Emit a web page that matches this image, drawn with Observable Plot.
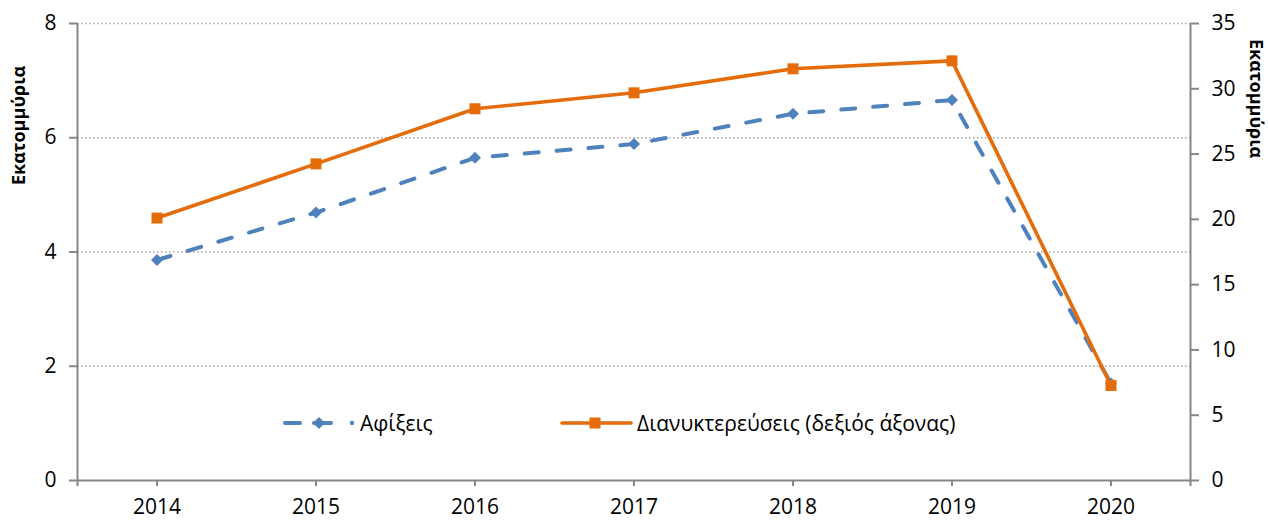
<!DOCTYPE html>
<html>
<head>
<meta charset="utf-8">
<script src="https://cdn.jsdelivr.net/npm/d3@7"></script>
<script src="https://cdn.jsdelivr.net/npm/@observablehq/plot@0.6"></script>
<style>
  html, body { margin: 0; padding: 0; background: #fff; }
  #wrap { position: relative; width: 1268px; height: 520px; font-family: "Open Sans", sans-serif; }
  .leg { position: absolute; top: 408px; height: 30px; display: flex; align-items: center; font-size: 21px; color: #000; white-space: nowrap; }
  .leg svg { display: block; }
</style>
</head>
<body>
<div id="wrap"></div>
<script>
const years = [2014, 2015, 2016, 2017, 2018, 2019, 2020];
const arrivals = [3.86, 4.69, 5.65, 5.89, 6.42, 6.66, 1.70];
const nights = [20.1, 24.25, 28.47, 29.69, 31.53, 32.14, 7.28];
const leftTicks = [0, 2, 4, 6, 8];
const rightTicks = [0, 5, 10, 15, 20, 25, 30, 35];
const leftMax = 8, rightMax = 35;
const seriesNames = ["Αφίξεις", "Διανυκτερεύσεις (δεξιός άξονας)"];
const axisTitle = "Εκατομμύρια";

const blue = "#4F81BD", orange = "#E46C0A", axisGray = "#868686", gridGray = "#A6A6A6";
const k = leftMax / rightMax;
const data = years.map((y, i) => ({year: y, arrivals: arrivals[i], nights: nights[i]}));

const chart = Plot.plot({
  width: 1268,
  height: 520,
  marginLeft: 77,
  marginRight: 78,
  marginTop: 23,
  marginBottom: 40,
  style: {fontFamily: "Open Sans, sans-serif", fontSize: "20px", color: "#000", background: "#fff", overflow: "visible"},
  x: {type: "linear", domain: [years[0] - 0.5, years[years.length - 1] + 0.5]},
  y: {domain: [0, leftMax]},
  marks: [
    Plot.ruleY(leftTicks.filter(d => d > 0), {stroke: gridGray, strokeWidth: 1.4, strokeDasharray: "1.5,2.5"}),
    Plot.axisY({anchor: "left", ticks: leftTicks, tickSize: 8, tickPadding: 13, stroke: axisGray, strokeWidth: 2, strokeOpacity: 1, fontSize: 21, label: null, tickFormat: d => String(d)}),
    Plot.axisY({anchor: "right", ticks: rightTicks.map(t => t * k), tickSize: 8, tickPadding: 13, stroke: axisGray, strokeWidth: 2, strokeOpacity: 1, fontSize: 21, label: null, tickFormat: d => String(Math.round(d / k))}),
    Plot.axisX({ticks: years, tickSize: 6, tickPadding: 13, stroke: axisGray, strokeWidth: 2, strokeOpacity: 1, fontSize: 21, label: null, tickFormat: d => String(d)}),
    Plot.axisX({ticks: [years[0] - 0.5, years[years.length - 1] + 0.5], tickSize: 6, stroke: axisGray, strokeWidth: 2, strokeOpacity: 1, label: null, tickFormat: () => ""}),
    Plot.ruleX([years[0] - 0.5, years[years.length - 1] + 0.5], {stroke: axisGray, strokeWidth: 2}),
    Plot.ruleY([0], {stroke: axisGray, strokeWidth: 2}),
    Plot.line(data, {x: "year", y: "arrivals", stroke: blue, strokeWidth: 4, strokeDasharray: "14,18", strokeLinecap: "round"}),
    Plot.dot(data, {x: "year", y: "arrivals", symbol: "diamond2", r: 5.4, fill: blue, stroke: null}),
    Plot.line(data, {x: "year", y: d => d.nights * k, stroke: orange, strokeWidth: 3.6}),
    Plot.dot(data, {x: "year", y: d => d.nights * k, symbol: "square", r: 6.2, fill: orange, stroke: null}),
    Plot.text([axisTitle], {frameAnchor: "top-left", dx: -65, dy: 102, rotate: -90, fontWeight: "bold", fontSize: 18, textAnchor: "middle"}),
    Plot.text([axisTitle], {frameAnchor: "top-right", dx: 72, dy: 75, rotate: 90, fontWeight: "bold", fontSize: 18, textAnchor: "middle"})
  ]
});

const wrap = document.getElementById("wrap");
wrap.appendChild(chart);

const leg1 = document.createElement("div");
leg1.className = "leg";
leg1.style.left = "280px";
leg1.innerHTML = `<svg width="80" height="30">
  <line x1="5" y1="15" x2="20" y2="15" stroke="${blue}" stroke-width="4" stroke-linecap="round"/>
  <line x1="34" y1="15" x2="51" y2="15" stroke="${blue}" stroke-width="4" stroke-linecap="round"/>
  <path d="M39,9 L45,15 L39,21 L33,15 Z" fill="${blue}"/>
  <circle cx="72" cy="15" r="2.2" fill="${blue}"/>
</svg><span>${seriesNames[0]}</span>`;
wrap.appendChild(leg1);

const leg2 = document.createElement("div");
leg2.className = "leg";
leg2.style.left = "559px";
leg2.innerHTML = `<svg width="78" height="30">
  <line x1="3" y1="15" x2="72" y2="15" stroke="${orange}" stroke-width="3.6" stroke-linecap="round"/>
  <rect x="30.5" y="9.5" width="11" height="11" fill="${orange}"/>
</svg><span>${seriesNames[1]}</span>`;
wrap.appendChild(leg2);
</script>
</body>
</html>
